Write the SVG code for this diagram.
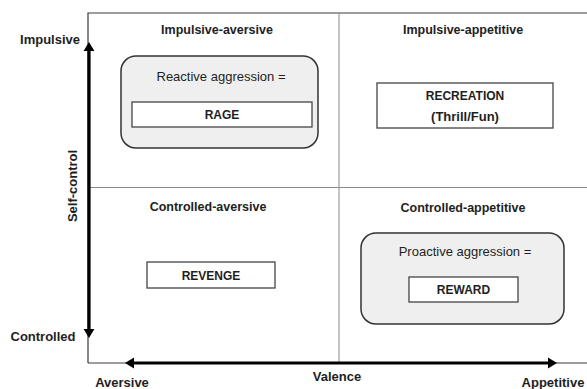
<svg xmlns="http://www.w3.org/2000/svg" width="587" height="389" viewBox="0 0 587 389">
<style>
text{font-family:"Liberation Sans",Arial,sans-serif;fill:#1e1e1e;text-anchor:middle}
.t{font-size:12.5px;font-weight:bold}
.ax{font-size:13px;font-weight:bold}
.l{font-size:13px}
.b{font-size:12px;font-weight:bold}
.frame{fill:none;stroke:#3a3a3a;stroke-width:1.2}
.div{stroke:#8a8a8a;stroke-width:1}
.grp{fill:#efefef;stroke:#333;stroke-width:1.5}
.box{fill:#fff;stroke:#444;stroke-width:1.3}
.arr{stroke:#000;stroke-width:3.2;fill:none;marker-start:url(#ah);marker-end:url(#ah)}
</style>
<defs>
<marker id="ah" viewBox="0 0 10 12" refX="4.6" refY="6" markerWidth="2.9" markerHeight="3.5" orient="auto-start-reverse" markerUnits="strokeWidth">
<path d="M0,0 L10,6 L0,12 Z" fill="#000"/>
</marker>
</defs>
<rect width="587" height="389" fill="#fff"/>
<g id="frame">
<path class="frame" d="M88,363 V13 H587"/>
<line class="frame" x1="88" y1="363" x2="587" y2="363"/>
<line class="div" x1="339" y1="13" x2="339" y2="363"/>
<line class="div" x1="88" y1="187.5" x2="587" y2="187.5"/>
</g>
<g id="connectors">
<line class="arr" x1="89" y1="333" x2="89" y2="47"/>
<line class="arr" x1="130" y1="363" x2="552" y2="363"/>
</g>
<g id="axis-labels">
<text class="ax" x="50" y="44">Impulsive</text>
<text class="ax" x="43" y="341">Controlled</text>
<text class="ax" x="0" y="0" transform="translate(77,186) rotate(-90)">Self-control</text>
<text class="ax" x="122" y="387">Aversive</text>
<text class="ax" x="337" y="381">Valence</text>
<text class="ax" x="553" y="387">Appetitive</text>
</g>
<g id="q-impulsive-aversive"><text class="t" x="217" y="34">Impulsive-aversive</text></g>
<g id="q-impulsive-appetitive"><text class="t" x="463" y="34">Impulsive-appetitive</text></g>
<g id="q-controlled-aversive"><text class="t" x="208" y="211">Controlled-aversive</text></g>
<g id="q-controlled-appetitive"><text class="t" x="463" y="212">Controlled-appetitive</text></g>
<g id="reactive">
<rect class="grp" x="121" y="56" width="197" height="92" rx="15"/>
<text class="l" x="221" y="80.5">Reactive aggression =</text>
</g>
<g id="rage">
<rect class="box" x="132" y="102" width="180" height="25"/>
<text class="b" x="222" y="118.5">RAGE</text>
</g>
<g id="recreation">
<rect class="box" x="377" y="83" width="176" height="45"/>
<text class="b" x="465" y="100">RECREATION</text>
<text class="b" x="465" y="121" style="font-size:13px">(Thrill/Fun)</text>
</g>
<g id="revenge">
<rect class="box" x="147" y="262" width="128" height="26"/>
<text class="b" x="211" y="279.5">REVENGE</text>
</g>
<g id="proactive">
<rect class="grp" x="361" y="233" width="203" height="91" rx="15"/>
<text class="l" x="465" y="255.5">Proactive aggression =</text>
</g>
<g id="reward">
<rect class="box" x="409" y="277" width="109" height="25"/>
<text class="b" x="463.5" y="294">REWARD</text>
</g>
</svg>
